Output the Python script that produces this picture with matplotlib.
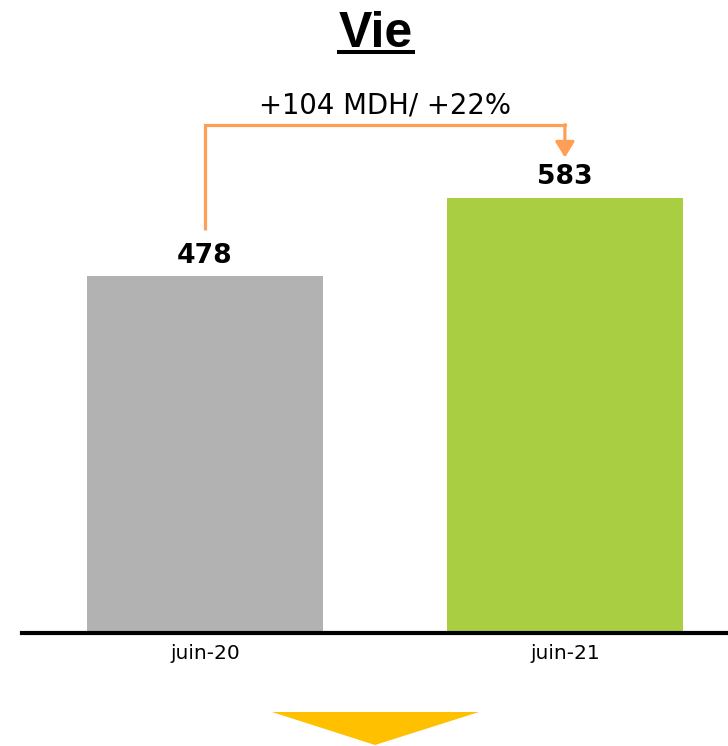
import matplotlib.pyplot as plt
from matplotlib.patches import Polygon

# Données
categories = ["juin-20", "juin-21"]
valeurs = [478, 583]
couleurs = ["#B2B2B2", "#AACE42"]
titre = "Vie"
variation = "+104 MDH/ +22%"

W, H = 728, 746
fig = plt.figure(figsize=(W / 100, H / 100), dpi=100)
ax = fig.add_axes([22 / W, 113 / H, 1 - 22 / W, 633 / H])

x = list(range(len(categories)))
ax.bar(x, valeurs, width=0.656, color=couleurs, zorder=1)

ax.set_xlim(-0.508, 1.453)
ax.set_ylim(0, 848)
for s in ["top", "left", "right"]:
    ax.spines[s].set_visible(False)
ax.spines["bottom"].set_linewidth(3)
ax.spines["bottom"].set_zorder(3)
ax.set_yticks([])
ax.set_xticks(x)
ax.set_xticklabels(categories, fontsize=14.5, family="DejaVu Sans")
ax.tick_params(axis="x", length=0, pad=8)

# étiquettes des valeurs
for xi, v in zip(x, valeurs):
    ax.text(xi, v + 18, str(v), ha="center", va="baseline",
            fontsize=19.2, fontweight="bold", family="DejaVu Sans")

# crochet de variation
orange = "#FF9F55"
y_haut = max(valeurs) + 98
ax.plot([0, 0, 1, 1], [valeurs[0] + 62, y_haut, y_haut, y_haut - 2],
        color=orange, lw=2.3, solid_capstyle="butt", solid_joinstyle="miter")
ax.annotate("", xy=(1, valeurs[1] + 54), xytext=(1, y_haut),
            arrowprops=dict(arrowstyle="-|>,head_length=9.4,head_width=5.8",
                            mutation_scale=1, color=orange, lw=2.3,
                            shrinkA=0, shrinkB=0))
ax.text(0.5, y_haut + 15, variation, ha="center", va="baseline",
        fontsize=19.8, family="DejaVu Sans")

# titre souligné
t = fig.text(376 / W, 1 - 47 / H, titre, ha="center", va="baseline",
             fontsize=36, fontweight="bold", family="Liberation Sans")
fig.canvas.draw()
bb = t.get_window_extent()
fig.add_artist(plt.Line2D([bb.x0 / W, bb.x1 / W], [1 - 52 / H, 1 - 52 / H],
                          color="black", lw=2.9, transform=fig.transFigure))

# triangle jaune
fig.add_artist(Polygon([[272 / W, 1 - 712 / H], [479 / W, 1 - 712 / H],
                        [375 / W, 1 - 745 / H]], closed=True,
                       facecolor="#FFC000", edgecolor="none",
                       transform=fig.transFigure))

fig.savefig("out.png", dpi=100)
